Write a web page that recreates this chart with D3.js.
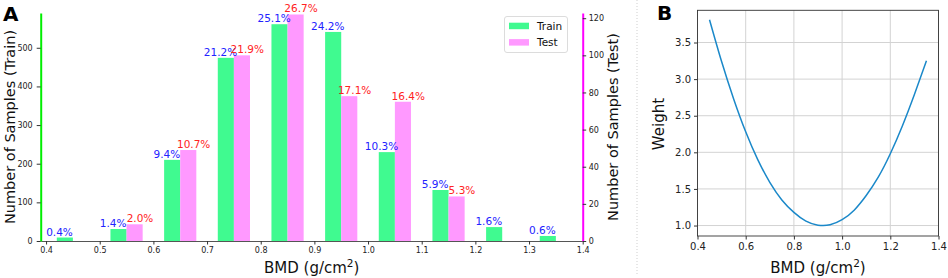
<!DOCTYPE html>
<html>
<head>
<meta charset="utf-8">
<script src="https://cdn.jsdelivr.net/npm/d3@7"></script>
<style>
  body { margin: 0; background: #fff; }
  svg text { font-family: "DejaVu Sans", sans-serif; }
</style>
</head>
<body>
<div id="chart"></div>
<script>
// histogram bins (BMD bin centres) and counts
var binCenters = [0.45, 0.55, 0.65, 0.75, 0.85, 0.95, 1.05, 1.15, 1.25, 1.35];
var trainCounts = [9, 31, 210, 474, 561, 541, 230, 132, 36, 13];
var testCounts = [0, 9, 49, 100, 122, 78, 75, 24, 0, 0];
var trainPct = ["0.4%", "1.4%", "9.4%", "21.2%", "25.1%", "24.2%", "10.3%", "5.9%", "1.6%", "0.6%"];
var testPct = [null, "2.0%", "10.7%", "21.9%", "26.7%", "17.1%", "16.4%", "5.3%", null, null];

// weight curve
var weightX = [0.45, 0.50, 0.55, 0.60, 0.65, 0.70, 0.75, 0.80, 0.85, 0.90, 0.95, 1.00, 1.05, 1.10, 1.15, 1.20, 1.25, 1.30, 1.35];
var weightY = [3.81, 3.24, 2.73, 2.28, 1.90, 1.59, 1.35, 1.18, 1.06, 1.005, 1.01, 1.08, 1.21, 1.41, 1.66, 1.98, 2.36, 2.79, 3.25];

// tick values
var bmdTicksA = [0.4, 0.5, 0.6, 0.7, 0.8, 0.9, 1.0, 1.1, 1.2, 1.3, 1.4];
var trainTicks = [0, 100, 200, 300, 400, 500];
var testTicks = [0, 20, 40, 60, 80, 100, 120];
var bmdTicksB = [0.4, 0.6, 0.8, 1.0, 1.2, 1.4];
var weightTicks = [1.0, 1.5, 2.0, 2.5, 3.0, 3.5];

var trainColor = "#40fa90",
    testColor = "#ff99ff";

var svg = d3.select("#chart")
    .append("svg")
    .attr("width", 948)
    .attr("height", 278);

// //////////
// // PANEL A //
// //////////

var a = {left: 40.7, right: 582.7, top: 13, bottom: 241};

var x = d3.scaleLinear().domain([0.39, 1.40]).range([a.left, a.right]);
var yTrain = d3.scaleLinear().domain([0, 590]).range([a.bottom, a.top]);
var yTest = d3.scaleLinear().domain([0, 122.8]).range([a.bottom, a.top]);

var barW = 0.03;

svg.append("g").selectAll("rect")
    .data(binCenters)
    .enter()
    .append("rect")
    .attr("x", function(d) { return x(d - barW); })
    .attr("width", function(d) { return x(d) - x(d - barW); })
    .attr("y", function(d, i) { return yTrain(trainCounts[i]); })
    .attr("height", function(d, i) { return a.bottom - yTrain(trainCounts[i]); })
    .style("fill", trainColor);

svg.append("g").selectAll("rect")
    .data(binCenters)
    .enter()
    .append("rect")
    .attr("x", function(d) { return x(d); })
    .attr("width", function(d) { return x(d + barW) - x(d); })
    .attr("y", function(d, i) { return yTest(testCounts[i]); })
    .attr("height", function(d, i) { return a.bottom - yTest(testCounts[i]); })
    .style("fill", testColor);

// percentage labels
svg.append("g").selectAll("text")
    .data(binCenters)
    .enter()
    .append("text")
    .attr("x", function(d) { return x(d - 0.025); })
    .attr("y", function(d, i) { return yTrain(trainCounts[i]) - 2; })
    .attr("text-anchor", "middle")
    .style("font-size", "10.5px")
    .style("fill", "#2323ff")
    .text(function(d, i) { return trainPct[i]; });

svg.append("g").selectAll("text")
    .data(binCenters.filter(function(d, i) { return testPct[i]; }))
    .enter()
    .append("text")
    .attr("x", function(d) { return x(d + 0.025); })
    .attr("y", function(d) { return yTest(testCounts[binCenters.indexOf(d)]) - 2; })
    .attr("text-anchor", "middle")
    .style("font-size", "10.5px")
    .style("fill", "#ff2323")
    .text(function(d) { return testPct[binCenters.indexOf(d)]; });

// axes
var xAxisA = svg.append("g")
    .attr("transform", "translate(0," + a.bottom + ")")
    .call(d3.axisBottom(x).tickValues(bmdTicksA).tickFormat(d3.format(".1f")).tickSize(3.5).tickSizeOuter(0));
xAxisA.select(".domain").attr("stroke", "#555");

var leftAxis = svg.append("g")
    .attr("transform", "translate(" + a.left + ",0)")
    .call(d3.axisLeft(yTrain).tickValues(trainTicks).tickSize(4).tickPadding(4).tickSizeOuter(0));
leftAxis.select(".domain").attr("stroke", "#00ee00").attr("stroke-width", 2);

var rightAxis = svg.append("g")
    .attr("transform", "translate(" + a.right + ",0)")
    .call(d3.axisRight(yTest).tickValues(testTicks).tickSize(3.5).tickPadding(2.5).tickSizeOuter(0));
rightAxis.select(".domain").attr("stroke", "#ff00ff").attr("stroke-width", 2);

[xAxisA, leftAxis, rightAxis].forEach(function(g) {
    g.selectAll(".tick text").style("font-size", "8px").style("fill", "#222");
    g.selectAll(".tick line").attr("stroke", "#333");
});

// axis labels
var bmdLabel = function(cx) {
    var t = svg.append("text")
        .attr("x", cx)
        .attr("y", 272.5)
        .attr("text-anchor", "middle")
        .style("font-size", "15px")
        .style("fill", "#111");
    t.append("tspan").text("BMD (g/cm");
    t.append("tspan").attr("dy", -6).style("font-size", "10.5px").text("2");
    t.append("tspan").attr("dy", 6).text(")");
};
bmdLabel((a.left + a.right) / 2);

svg.append("text")
    .attr("transform", "translate(15," + (a.top + a.bottom) / 2 + ") rotate(-90)")
    .attr("text-anchor", "middle")
    .style("font-size", "14.5px")
    .style("fill", "#111")
    .text("Number of Samples (Train)");

svg.append("text")
    .attr("transform", "translate(618," + (a.top + a.bottom) / 2 + ") rotate(-90)")
    .attr("text-anchor", "middle")
    .style("font-size", "14.5px")
    .style("fill", "#111")
    .text("Number of Samples (Test)");

// legend
var legend = svg.append("g");
legend.append("rect")
    .attr("x", 504.5).attr("y", 16.5)
    .attr("width", 63).attr("height", 36)
    .attr("rx", 2.5)
    .style("fill", "#fff").style("stroke", "#dcdcdc");
var legendKeys = ["Train", "Test"],
    legendColors = [trainColor, testColor];
legend.selectAll("mydots")
    .data(legendKeys)
    .enter()
    .append("rect")
    .attr("x", 509)
    .attr("y", function(d, i) { return 22.7 + i * 16.4; })
    .attr("width", 20)
    .attr("height", 6.5)
    .style("fill", function(d, i) { return legendColors[i]; });
legend.selectAll("mylabels")
    .data(legendKeys)
    .enter()
    .append("text")
    .attr("x", 537)
    .attr("y", function(d, i) { return 30 + i * 16.4; })
    .style("font-size", "10.5px")
    .style("fill", "#111")
    .text(function(d) { return d; });

svg.append("text")
    .attr("x", 3).attr("y", 20.5)
    .style("font-size", "20px").style("font-weight", "bold")
    .text("A");

// separator
svg.append("line")
    .attr("x1", 637).attr("x2", 637)
    .attr("y1", 0).attr("y2", 274)
    .attr("stroke", "#cfcfcf")
    .attr("stroke-dasharray", "1,2");

// //////////
// // PANEL B //
// //////////

var b = {left: 697.5, right: 938.5, top: 10.3, bottom: 236};

var xb = d3.scaleLinear().domain([0.4, 1.4]).range([b.left, b.right]);
var yb = d3.scaleLinear().domain([0.857, 3.94]).range([b.bottom, b.top]);

// grid
svg.append("g").selectAll("line")
    .data(bmdTicksB)
    .enter()
    .append("line")
    .attr("x1", function(d) { return xb(d); })
    .attr("x2", function(d) { return xb(d); })
    .attr("y1", b.top).attr("y2", b.bottom)
    .attr("stroke", "#d3d3d3");
svg.append("g").selectAll("line")
    .data(weightTicks)
    .enter()
    .append("line")
    .attr("y1", function(d) { return yb(d); })
    .attr("y2", function(d) { return yb(d); })
    .attr("x1", b.left).attr("x2", b.right)
    .attr("stroke", "#d3d3d3");

var line = d3.line()
    .x(function(d, i) { return xb(weightX[i]); })
    .y(function(d) { return yb(d); })
    .curve(d3.curveNatural);

svg.append("path")
    .attr("d", line(weightY))
    .attr("fill", "none")
    .attr("stroke", "#1a88c9")
    .attr("stroke-width", 1.5);

var xAxisB = svg.append("g")
    .attr("transform", "translate(0," + b.bottom + ")")
    .call(d3.axisBottom(xb).tickValues(bmdTicksB).tickFormat(d3.format(".1f")).tickSize(3.5).tickSizeOuter(0));
var yAxisB = svg.append("g")
    .attr("transform", "translate(" + b.left + ",0)")
    .call(d3.axisLeft(yb).tickValues(weightTicks).tickFormat(d3.format(".1f")).tickSize(3.5).tickSizeOuter(0));
[xAxisB, yAxisB].forEach(function(g) {
    g.select(".domain").remove();
    g.selectAll(".tick text").style("font-size", "10px").style("fill", "#222");
    g.selectAll(".tick line").attr("stroke", "#333");
});

svg.append("rect")
    .attr("x", b.left).attr("y", b.top)
    .attr("width", b.right - b.left).attr("height", b.bottom - b.top)
    .style("fill", "none").style("stroke", "#333").style("stroke-width", 0.9);

bmdLabel((b.left + b.right) / 2);

svg.append("text")
    .attr("transform", "translate(664," + 124 + ") rotate(-90)")
    .attr("text-anchor", "middle")
    .style("font-size", "15px")
    .style("fill", "#111")
    .text("Weight");

svg.append("text")
    .attr("x", 657).attr("y", 20)
    .style("font-size", "20px").style("font-weight", "bold")
    .text("B");
</script>
</body>
</html>
